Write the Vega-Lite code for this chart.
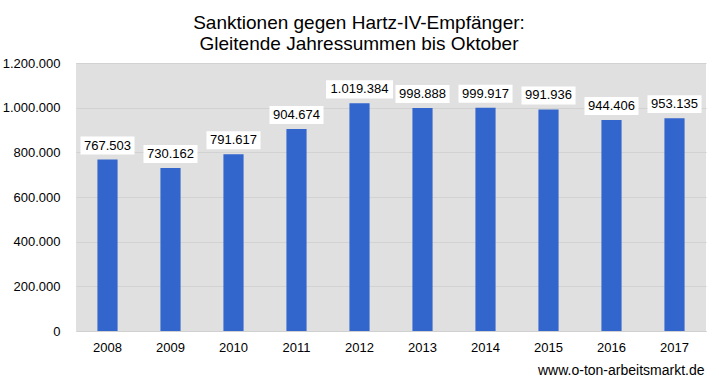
{
  "$schema": "https://vega.github.io/schema/vega-lite/v6.json",
  "width": 630,
  "height": 268,
  "autosize": {"type": "none"},
  "padding": {"left": 76, "top": 63, "right": 13, "bottom": 53},
  "background": "white",
  "title": {
    "text": ["Sanktionen gegen Hartz-IV-Empfänger:", "Gleitende Jahressummen bis Oktober"],
    "font": "Liberation Sans",
    "fontSize": 19,
    "fontWeight": "normal",
    "color": "#000000",
    "lineHeight": 21,
    "offset": 3,
    "anchor": "middle",
    "dx": -32
  },
  "data": {
    "values": [
      {"year": "2008", "value": 767503},
      {"year": "2009", "value": 730162},
      {"year": "2010", "value": 791617},
      {"year": "2011", "value": 904674},
      {"year": "2012", "value": 1019384},
      {"year": "2013", "value": 998888},
      {"year": "2014", "value": 999917},
      {"year": "2015", "value": 991936},
      {"year": "2016", "value": 944406},
      {"year": "2017", "value": 953135}
    ]
  },
  "encoding": {
    "x": {
      "field": "year",
      "type": "ordinal",
      "scale": {"paddingInner": 0.68, "paddingOuter": 0.34},
      "axis": {
        "title": "www.o-ton-arbeitsmarkt.de",
        "titleAnchor": "end",
        "titleAlign": "right",
        "titleFont": "Liberation Sans",
        "titleFontSize": 14,
        "titleFontWeight": "normal",
        "titleColor": "#000000",
        "titlePadding": 9,
        "titleX": 628,
        "labelAngle": 0,
        "labelFont": "Liberation Sans",
        "labelFontSize": 13,
        "labelColor": "#000000",
        "labelPadding": 10,
        "ticks": false,
        "domainColor": "#d0d0d0",
        "domainWidth": 1
      }
    },
    "y": {
      "field": "value",
      "type": "quantitative",
      "scale": {"domain": [0, 1200000], "nice": false},
      "axis": {
        "title": null,
        "values": [0, 200000, 400000, 600000, 800000, 1000000, 1200000],
        "format": ",d",
        "labelFont": "Liberation Sans",
        "labelFontSize": 13,
        "labelColor": "#000000",
        "labelPadding": 16,
        "ticks": false,
        "domain": false,
        "gridColor": "#d2d2d2",
        "gridWidth": 1
      }
    }
  },
  "layer": [
    {"mark": {"type": "bar", "color": "#3366cc"}},
    {
      "mark": {"type": "point", "filled": true, "fill": "white", "opacity": 1, "strokeWidth": 0, "yOffset": -14},
      "encoding": {
        "shape": {
          "condition": {"test": "datum.value >= 1000000", "value": "M-1,-0.27H1V0.27H-1Z"},
          "value": "M-1,-0.333H1V0.333H-1Z"
        },
        "size": {
          "condition": {"test": "datum.value >= 1000000", "value": 4489},
          "value": 2916
        }
      }
    },
    {
      "mark": {"type": "text", "font": "Liberation Sans", "fontSize": 13, "color": "#000000", "baseline": "middle", "dy": -14},
      "encoding": {
        "text": {"field": "value", "type": "quantitative", "format": ",d"}
      }
    }
  ],
  "config": {
    "locale": {
      "number": {"decimal": ",", "thousands": ".", "grouping": [3], "currency": ["", " €"]}
    },
    "view": {"fill": "#e0e0e0", "stroke": null}
  }
}
